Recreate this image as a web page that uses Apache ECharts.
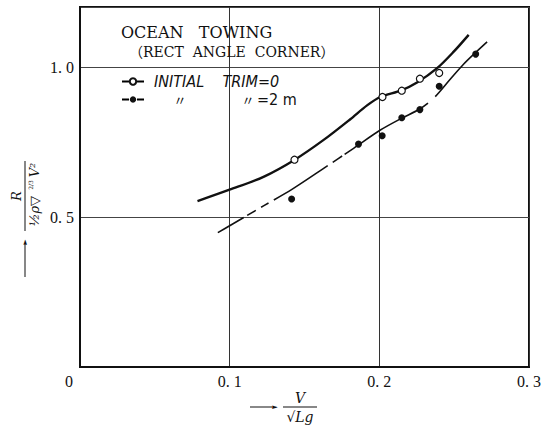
<!DOCTYPE html>
<html>
<head>
<meta charset="utf-8">
<script src="https://cdn.jsdelivr.net/npm/echarts@6.0.0/dist/echarts.min.js"></script>
<style>html,body{margin:0;padding:0;background:#fff;}</style>
</head>
<body>
<div id="main" style="width:542px;height:428px;"></div>
<script>
    // axis ticks
    var xTicks = [0, 0.1, 0.2, 0.3];
    var xTickLabels = ['0', '0. 1', '0. 2', '0. 3'];
    var yTicks = [0.5, 1.0];
    var yTickLabels = ['0. 5', '1. 0'];

    var seriesNames = ['INITIAL TRIM=0', '〃 〃 =2m'];

    // measured points [V/sqrt(Lg), R/(1/2 rho D^2/3 V^2)]
    var trim0Points = [[0.1433, 0.691], [0.2021, 0.900], [0.2150, 0.921], [0.2271, 0.961], [0.2400, 0.980]];
    var trim2Points = [[0.1414, 0.560], [0.1861, 0.743], [0.2019, 0.771], [0.2150, 0.831],
        [0.2271, 0.858], [0.2400, 0.936], [0.2644, 1.043]];

    // faired curves
    var trim0Curve = [[0.0785, 0.553], [0.0999, 0.591], [0.1226, 0.634], [0.1438, 0.692], [0.1628, 0.757],
        [0.1806, 0.826], [0.1918, 0.872], [0.2007, 0.900], [0.2147, 0.922], [0.2252, 0.948],
        [0.2386, 0.996], [0.2497, 1.051], [0.2597, 1.107]];
    var trim2Curve = [[0.0921, 0.448], [0.1000, 0.471], [0.1226, 0.537], [0.1416, 0.592],
        [0.1628, 0.662], [0.1828, 0.729], [0.2007, 0.790], [0.2152, 0.830], [0.2270, 0.860],
        [0.2363, 0.896], [0.2475, 0.960], [0.2564, 1.010], [0.2638, 1.046], [0.2720, 1.084]];

    function tickText(v, ticks, labels) {
        for (var i = 0; i < ticks.length; i++) {
            if (Math.abs(v - ticks[i]) < 1e-9) return labels[i];
        }
        return '';
    }

    var serif = "'DejaVu Serif', serif";
    var labelFont = "'Liberation Serif', serif";
    var narrow = "'Liberation Sans Narrow', 'DejaVu Sans Condensed', sans-serif";
    var cjk = "'Noto Sans CJK JP', sans-serif";

    var myChart = echarts.init(document.getElementById('main'), null, {renderer: 'svg'});

    var option = {
        animation: false,
        backgroundColor: '#fff',
        title: [{
            text: 'OCEAN\u00a0\u00a0\u00a0TOWING',
            left: 121, top: 24, padding: 0,
            textStyle: {fontFamily: serif, fontSize: 16, fontWeight: 'normal', color: '#111'}
        }, {
            text: '（RECT\u00a0\u00a0ANGLE\u00a0\u00a0CORNER）',
            left: 129, top: 45, padding: 0,
            textStyle: {fontFamily: "'DejaVu Serif', 'Noto Sans CJK JP', serif", fontSize: 14, fontWeight: 'normal', color: '#111'}
        }],
        legend: {
            left: 121, top: 73, padding: 0,
            orient: 'vertical',
            itemWidth: 22, itemHeight: 8, itemGap: 1,
            selectedMode: false,
            data: [
                {name: seriesNames[0], lineStyle: {width: 2, color: '#000'}},
                {name: seriesNames[1], lineStyle: {width: 1.8, color: '#000', type: [7, 8]}}
            ],
            formatter: function (name) {
                if (name === seriesNames[1]) return '{pad|\u00a0}{q1|〃}{gap|\u00a0}{q2|〃}{eq|=2\u00a0m}';
                return '{pad|\u00a0}{t|INITIAL\u00a0\u00a0\u00a0\u00a0TRIM=0}';
            },
            textStyle: {
                color: '#111', fontFamily: narrow, fontSize: 16, lineHeight: 17,
                rich: {
                    pad: {width: 5, fontSize: 15, lineHeight: 17},
                    t: {fontFamily: narrow, fontStyle: 'italic', fontSize: 16, lineHeight: 17, color: '#111'},
                    q1: {width: 52, align: 'center', fontFamily: cjk, fontSize: 13, lineHeight: 17, color: '#111'},
                    gap: {width: 37, fontSize: 4, lineHeight: 17},
                    q2: {width: 10, align: 'center', fontFamily: cjk, fontSize: 13, lineHeight: 17, color: '#111'},
                    eq: {padding: [0, 0, 0, 4], fontFamily: narrow, fontSize: 16, lineHeight: 17, color: '#111'}
                }
            }
        },
        grid: {
            left: 80, right: 13, top: 7, bottom: 61,
            outerBoundsMode: 'none',
            containLabel: false,
            show: true, borderColor: '#111', borderWidth: 2
        },
        xAxis: {
            type: 'value', min: 0, max: 0.3, interval: 0.1,
            name: '{s1|\u00a0}{n|V}{s2|\u00a0}\n{sh|\u00a0}{hd|►}{g|\u00a0}{bar|\u00a0}{s2b|\u00a0}\n{s1c|\u00a0}{d|√Lg}{s2c|\u00a0}',
            nameLocation: 'middle', nameGap: 24, nameMoveOverlap: false,
            nameTextStyle: {
                rich: {
                    s1: {width: 33, lineHeight: 14, fontSize: 4},
                    s2: {width: 42, lineHeight: 14, fontSize: 4},
                    n: {width: 34, align: 'center', fontFamily: serif, fontStyle: 'italic', fontSize: 14, lineHeight: 14, color: '#111'},
                    sh: {width: 22, height: 1, backgroundColor: '#111', fontSize: 4, lineHeight: 4},
                    hd: {width: 6, fontFamily: "'DejaVu Sans'", fontSize: 7, lineHeight: 4, color: '#111'},
                    g: {width: 5, fontSize: 4, lineHeight: 4},
                    bar: {width: 34, height: 1, backgroundColor: '#111', fontSize: 4, lineHeight: 4},
                    s2b: {width: 42, fontSize: 4, lineHeight: 4},
                    s1c: {width: 33, lineHeight: 15, fontSize: 4},
                    s2c: {width: 42, lineHeight: 15, fontSize: 4},
                    d: {width: 34, align: 'center', fontFamily: serif, fontStyle: 'italic', fontSize: 14, lineHeight: 15, color: '#111'}
                }
            },
            axisLine: {lineStyle: {color: '#111', width: 2}},
            axisTick: {show: false},
            axisLabel: {
                margin: 6, color: '#111', fontFamily: labelFont, fontSize: 16,
                formatter: function (v) {
                    var s = tickText(v, xTicks, xTickLabels);
                    return v === 0 ? '{z|' + s + '}' : s;
                },
                rich: {z: {padding: [0, 22, 0, 0], fontFamily: labelFont, fontSize: 16, color: '#111'}}
            },
            splitLine: {lineStyle: {color: '#333', width: 1}}
        },
        yAxis: {
            type: 'value', min: 0, max: 1.2, interval: 0.5,
            name: '{s1|\u00a0}{n|R}{s2|\u00a0}\n{sh|\u00a0}{hd|►}{g|\u00a0}{bar|\u00a0}{s2b|\u00a0}\n{s1|\u00a0}{d1|½ρ▽}{sp|2/3}{d2|V²}{s2|\u00a0}',
            nameLocation: 'middle', nameRotate: 90, nameGap: 39, nameMoveOverlap: false,
            nameTextStyle: {
                rich: {
                    s1: {width: 46, lineHeight: 14, fontSize: 4},
                    s2: {width: 64, lineHeight: 14, fontSize: 4},
                    n: {width: 70, align: 'center', fontFamily: serif, fontStyle: 'italic', fontSize: 13, lineHeight: 14, color: '#111'},
                    sh: {width: 32, height: 1, backgroundColor: '#111', fontSize: 4, lineHeight: 4},
                    hd: {width: 6, fontFamily: "'DejaVu Sans'", fontSize: 7, lineHeight: 4, color: '#111'},
                    g: {width: 8, fontSize: 4, lineHeight: 4},
                    bar: {width: 70, height: 1, backgroundColor: '#111', fontSize: 4, lineHeight: 4},
                    s2b: {width: 64, fontSize: 4, lineHeight: 4},
                    d1: {width: 40, align: 'right', fontFamily: serif, fontStyle: 'italic', fontSize: 13, lineHeight: 14, color: '#111'},
                    sp: {width: 12, align: 'center', verticalAlign: 'top', fontFamily: serif, fontSize: 6, lineHeight: 14, color: '#111'},
                    d2: {width: 18, align: 'left', fontFamily: serif, fontStyle: 'italic', fontSize: 13, lineHeight: 14, color: '#111'}
                }
            },
            axisLine: {lineStyle: {color: '#111', width: 2}},
            axisTick: {show: false},
            axisLabel: {
                margin: 6, color: '#111', fontFamily: labelFont, fontSize: 16,
                formatter: function (v) { return tickText(v, yTicks, yTickLabels); }
            },
            splitLine: {lineStyle: {color: '#444', width: 1}}
        },
        series: [{
            name: seriesNames[0],
            type: 'line',
            data: trim0Curve,
            smooth: 0.3,
            showSymbol: false,
            symbol: 'emptyCircle',
            lineStyle: {color: '#111', width: 2.4},
            itemStyle: {color: '#111'},
            silent: true,
            z: 2
        }, {
            name: seriesNames[1],
            type: 'line',
            data: trim2Curve,
            smooth: 0.3,
            showSymbol: false,
            symbol: 'circle',
            // broken line as in the drawing
            lineStyle: {color: '#111', width: 1.6, type: [30, 4, 10, 6, 9, 6, 64, 6, 11, 3, 98, 10, 200, 0]},
            itemStyle: {color: '#111'},
            silent: true,
            z: 2
        }, {
            name: 'trim0 measured',
            type: 'scatter',
            data: trim0Points,
            symbol: 'circle',
            symbolSize: 7,
            itemStyle: {color: '#fff', borderColor: '#111', borderWidth: 1.2, opacity: 1},
            silent: true,
            z: 3
        }, {
            name: 'trim2 measured',
            type: 'scatter',
            data: trim2Points,
            symbol: 'circle',
            symbolSize: 7,
            itemStyle: {color: '#111', opacity: 1},
            silent: true,
            z: 3
        }]
    };

    myChart.setOption(option);

    window.onresize = function () {
        myChart.resize();
    };
</script>
</body>
</html>
